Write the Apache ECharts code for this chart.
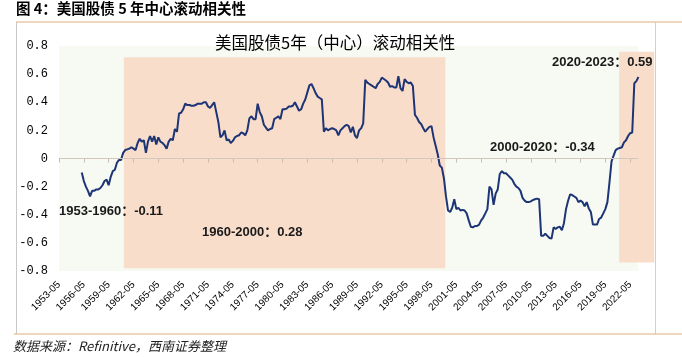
<!DOCTYPE html>
<html><head><meta charset="utf-8">
<script src="https://cdn.jsdelivr.net/npm/echarts@6/dist/echarts.min.js"></script>
<style>html,body{margin:0;padding:0;background:#fff}#c{width:682px;height:357px}</style>
</head><body><div id="c"></div>
<script>
// quarterly categories starting 1953-05
const dates = [];
for (let i = 0; i <= 288; i++) {
  const m = 4 + 3 * i;
  dates.push((1953 + Math.floor(m / 12)) + '-' + String(m % 12 + 1).padStart(2, '0'));
}
const tickLabels = ['1953-05','1956-05','1959-05','1962-05','1965-05','1968-05','1971-05','1974-05',
  '1977-05','1980-05','1983-05','1986-05','1989-05','1992-05','1995-05','1998-05','2001-05',
  '2004-05','2007-05','2010-05','2013-05','2016-05','2019-05','2022-05'];
const yTicks = [-0.8, -0.6, -0.4, -0.2, 0, 0.2, 0.4, 0.6, 0.8];

// 5-year rolling correlation, quarterly sampled (first 11 quarters empty)
const corr = [null,null,null,null,null,null,null,null,null,null,null,
  -0.10,-0.16,-0.20,-0.23,-0.27,-0.23,-0.23,-0.22,-0.22,-0.21,
  -0.19,-0.16,-0.15,-0.19,-0.13,-0.09,-0.08,-0.03,-0.01,-0.01,
  0.04,0.06,0.065,0.07,0.08,0.07,0.06,0.11,0.14,0.12,
  0.13,0.04,0.12,0.16,0.12,0.16,0.10,0.15,0.12,0.11,
  0.095,0.07,0.12,0.14,0.13,0.21,0.19,0.32,0.325,0.35,
  0.39,0.38,0.38,0.375,0.375,0.38,0.39,0.39,0.39,0.40,
  0.40,0.37,0.36,0.38,0.40,0.33,0.26,0.15,0.165,0.20,
  0.13,0.135,0.11,0.125,0.15,0.16,0.165,0.185,0.18,0.165,
  0.20,0.285,0.30,0.28,0.28,0.39,0.33,0.30,0.24,0.22,
  0.20,0.21,0.215,0.28,0.29,0.30,0.28,0.35,0.35,0.355,
  0.37,0.37,0.375,0.40,0.37,0.34,0.35,0.39,0.42,0.47,
  0.52,0.53,0.50,0.465,0.44,0.43,0.42,0.19,0.215,0.20,
  0.21,0.215,0.21,0.20,0.165,0.20,0.215,0.23,0.24,0.23,
  0.185,0.225,0.165,0.145,0.20,0.215,0.25,0.56,0.54,0.53,
  0.52,0.51,0.50,0.53,0.545,0.575,0.565,0.555,0.54,0.51,
  0.515,0.505,0.505,0.585,0.50,0.48,0.565,0.545,0.535,0.54,
  0.515,0.31,0.29,0.26,0.245,0.215,0.19,0.21,0.225,0.23,
  0.15,0.09,0.03,-0.05,-0.065,-0.14,-0.27,-0.37,-0.38,-0.35,
  -0.29,-0.36,-0.35,-0.37,-0.365,-0.37,-0.39,-0.44,-0.485,-0.49,
  -0.48,-0.48,-0.47,-0.44,-0.42,-0.39,-0.36,-0.20,-0.22,-0.33,
  -0.25,-0.22,-0.11,-0.09,-0.105,-0.105,-0.12,-0.135,-0.15,-0.18,
  -0.20,-0.21,-0.23,-0.28,-0.30,-0.31,-0.31,-0.305,-0.295,-0.29,
  -0.285,-0.29,-0.55,-0.55,-0.535,-0.55,-0.565,-0.57,-0.49,-0.50,
  -0.49,-0.485,-0.51,-0.46,-0.36,-0.30,-0.255,-0.26,-0.27,-0.28,
  -0.31,-0.30,-0.31,-0.34,-0.31,-0.355,-0.38,-0.47,-0.47,-0.47,
  -0.43,-0.42,-0.39,-0.36,-0.31,-0.17,-0.02,0.02,0.06,0.07,
  0.075,0.08,0.115,0.13,0.16,0.18,0.185,0.535,0.55,0.58];

// shaded periods
const bandStart = ['1961-03', '2021-01'];
const bandEnd = ['2000-01', '2025-04'];
const bandTop = [0.72, 0.76];
const bandBottom = [-0.78, -0.74];
const annotations = ['1953-1960：-0.11', '1960-2000：0.28', '2000-2020：-0.34', '2020-2023：0.59'];

function dateIndex(s) {
  const [y, m] = s.split('-').map(Number);
  return (y * 12 + m - (1953 * 12 + 5)) / 3;
}
const lastIdx = corr.length - 1;
const tickIdx = tickLabels.map(t => dates.indexOf(t));

const areas = [[{coord: [0, yTicks[yTicks.length - 1]], itemStyle: {color: '#F7FAF3', opacity: 1}}, {coord: [lastIdx, yTicks[0]]}]];
for (let i = 0; i < bandStart.length; i++) {
  areas.push([{coord: [dateIndex(bandStart[i]), bandTop[i]], itemStyle: {color: '#F8DDCA', opacity: 1}},
              {coord: [dateIndex(bandEnd[i]), bandBottom[i]]}]);
}

const annPos = [[59, 211], [202, 232], [490, 147], [552, 62]];
const graphics = [
  {type: 'line', shape: {x1: 16, y1: 22, x2: 682, y2: 22}, style: {stroke: '#DDB07A', lineWidth: 1.2}, z: 10},
  {type: 'line', shape: {x1: 16.5, y1: 22, x2: 16.5, y2: 334}, style: {stroke: '#C8C8C8', lineWidth: 1}, z: 10},
  {type: 'line', shape: {x1: 655.5, y1: 22, x2: 655.5, y2: 334}, style: {stroke: '#D0D0D0', lineWidth: 1}, z: 10},
  {type: 'line', shape: {x1: 14, y1: 334, x2: 682, y2: 334}, style: {stroke: '#DDB07A', lineWidth: 1.2}, z: 10},
  {type: 'text', x: 16, y: 8, z: 10, style: {text: '图 4：美国股债 5 年中心滚动相关性', font: 'bold 14.5px "Noto Sans CJK SC"', fill: '#000', verticalAlign: 'middle'}},
  {type: 'text', x: 215, y: 43, z: 10, style: {text: '美国股债5年（中心）滚动相关性', font: '16.5px "Noto Sans CJK SC"', fill: '#000', verticalAlign: 'middle'}},
  {type: 'text', x: 13, y: 346, z: 10, style: {text: '数据来源：Refinitive，西南证券整理', font: 'italic 13px "Noto Sans CJK SC"', fill: '#222', verticalAlign: 'middle'}}
];
annotations.forEach((t, i) => {
  graphics.push({type: 'text', x: annPos[i][0], y: annPos[i][1], z: 10,
    style: {text: t, font: 'bold 13px "Liberation Sans","Noto Sans CJK SC"', fill: '#1a1a1a', verticalAlign: 'middle'}});
});

const chart = echarts.init(document.getElementById('c'));
chart.setOption({
  animation: false,
  grid: {left: 59, right: 27, top: 46, bottom: 86, containLabel: false, outerBoundsMode: 'none'},
  xAxis: [{
    type: 'value', min: 0, max: dates.length - 1, position: 'bottom',
    axisLine: {show: false, onZero: false},
    axisTick: {show: false},
    axisLabel: {customValues: tickIdx, formatter: v => dates[v], rotate: 45, margin: 12,
      fontSize: 10, color: '#000', fontFamily: 'Liberation Sans'},
    splitLine: {show: false}
  }, {
    type: 'value', min: 0, max: dates.length - 1, position: 'bottom', z: 3,
    axisLine: {show: true, onZero: true, lineStyle: {opacity: 0}},
    axisTick: {show: true, customValues: tickIdx, length: 4, lineStyle: {color: '#C9BBAE', opacity: 1}},
    axisLabel: {show: false},
    splitLine: {show: false}
  }],
  yAxis: {
    type: 'value', min: yTicks[0], max: yTicks[yTicks.length - 1], interval: 0.2,
    axisLine: {show: false}, axisTick: {show: false}, splitLine: {show: false},
    axisLabel: {formatter: v => Math.abs(v) < 1e-9 ? '0' : v.toFixed(1), margin: 11,
      fontSize: 12, color: '#000', fontFamily: 'Liberation Mono'}
  },
  series: [{
    type: 'line', data: corr.map((v, i) => [i, v]), symbol: 'none', showSymbol: false,
    lineStyle: {color: '#1D3475', width: 2}, z: 2,
    markArea: {silent: true, data: areas},
    markLine: {silent: true, symbol: 'none', label: {show: false},
      lineStyle: {color: '#D3C6BA', width: 1, type: 'solid'},
      data: [[{coord: [0, 0]}, {coord: [lastIdx, 0]}]]}
  }],
  graphic: graphics
});
</script></body></html>
